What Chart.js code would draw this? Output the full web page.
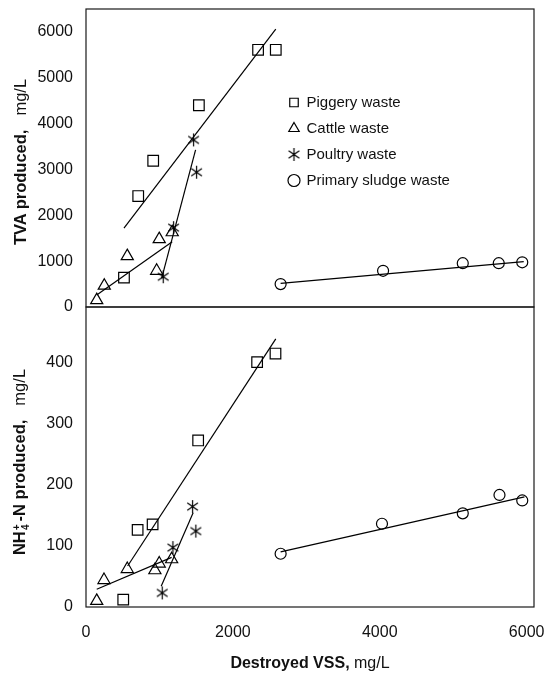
<!DOCTYPE html>
<html>
<head>
<meta charset="utf-8">
<script src="https://cdn.jsdelivr.net/npm/chart.js@4.4.1/dist/chart.umd.min.js"></script>
<style>
  html, body { margin: 0; padding: 0; background: #fff; }
  #wrap { position: relative; width: 545px; height: 674px; background: #fff;
          font-family: "Liberation Sans", Arial, sans-serif; color: #111; }
  #wrap canvas { position: absolute; left: 0; top: 0; }
  .ytitle { position: absolute; white-space: nowrap; font-size: 16.5px; line-height: 1;
            transform: translate(-50%, -50%) rotate(-90deg); }
  .xtitle { position: absolute; white-space: nowrap; font-size: 16px; line-height: 1;
            transform: translate(-50%, -50%); }
  .unit { margin-left: 14px; font-weight: normal; }
  .ion { display: inline-block; vertical-align: middle; font-size: 10px; line-height: 9px;
         text-align: center; margin: 0 3px 0 1px; }
  .ion span { display: block; }
</style>
</head>
<body>
<div id="wrap">
  <canvas id="tvaChart" width="545" height="674"></canvas>
  <canvas id="nh4Chart" width="545" height="674"></canvas>
  <div class="ytitle" style="left:20px; top:162px"><b>TVA produced,</b><span class="unit">mg/L</span></div>
  <div class="ytitle" style="left:20px; top:462px"><b>NH<span class="ion"><span>+</span><span>4</span></span>-N produced,</b><span class="unit">mg/L</span></div>
  <div class="xtitle" style="left:310px; top:663px"><b>Destroyed VSS,</b> mg/L</div>
</div>
<script>
// --- Data (destroyed VSS in mg/L on x) ---
const seriesNames = ['Piggery waste', 'Cattle waste', 'Poultry waste', 'Primary sludge waste'];

// tick labels
const vssTicks = [0, 2000, 4000, 6000];
const tvaTicks = [0, 1000, 2000, 3000, 4000, 5000, 6000];
const nh4Ticks = [0, 100, 200, 300, 400];

// TVA panel
const vssPiggeryTva = [517, 711, 915, 1537, 2343, 2584];
const tvaPiggery = [640, 2420, 3190, 4400, 5610, 5610];
const vssCattleTva = [146, 249, 562, 962, 997, 1174];
const tvaCattle = [150, 465, 1110, 790, 1480, 1630];
const vssPoultryTva = [1051, 1193, 1465, 1506];
const tvaPoultry = [660, 1730, 3645, 2940];
const vssSludgeTva = [2650, 4045, 5130, 5620, 5940];
const tvaSludge = [500, 790, 955, 955, 975];

// TVA fitted lines (end points)
const fitPiggeryTva = { x: [517, 2584], y: [1720, 6060] };
const fitCattleTva = { x: [146, 1174], y: [262, 1425] };
const fitPoultryTva = { x: [1030, 1492], y: [626, 3426] };
const fitSludgeTva = { x: [2650, 5960], y: [515, 990] };

// NH4+-N panel
const vssPiggeryN = [507, 703, 907, 1527, 2330, 2580];
const nPiggery = [12, 126, 135, 272, 400, 414];
const vssCattleN = [146, 245, 562, 938, 997, 1166];
const nCattle = [10, 44, 62, 60, 71, 78];
const vssPoultryN = [1038, 1183, 1451, 1496];
const nPoultry = [23, 97, 164, 124];
const vssSludgeN = [2650, 4030, 5130, 5630, 5940];
const nSludge = [87, 136, 153, 183, 174];

// NH4+-N fitted lines (end points)
const fitPiggeryN = { x: [567, 2584], y: [67, 438] };
const fitCattleN = { x: [146, 1166], y: [29, 81] };
const fitPoultryN = { x: [1024, 1459], y: [34, 154] };
const fitSludgeN = { x: [2650, 5970], y: [90, 180] };

// --- Styling ---
const FONT = '"Liberation Sans", Arial, sans-serif';
Chart.defaults.font.family = FONT;
Chart.defaults.color = '#111';

// six-armed asterisk like the printed poultry marker
function asteriskMarker(r) {
    const c = document.createElement('canvas');
    c.width = c.height = 2 * r + 2;
    const g = c.getContext('2d');
    const m = r + 1;
    g.strokeStyle = '#000';
    g.lineWidth = 1.2;
    g.beginPath();
    [90, 35, 145].forEach(deg => {
        const a = deg * Math.PI / 180;
        g.moveTo(m - r * Math.cos(a), m - r * Math.sin(a));
        g.lineTo(m + r * Math.cos(a), m + r * Math.sin(a));
    });
    g.stroke();
    return c;
}

const markers = [
    { style: 'rect', radius: 7.5 },
    { style: 'triangle', radius: 7 },
    { style: asteriskMarker(6.5), radius: 6.5 },
    { style: 'circle', radius: 5.5 }
];

const pts = (xs, ys) => xs.map((x, i) => ({ x, y: ys[i] }));

function markerSet(i, xs, ys) {
    return {
        label: seriesNames[i],
        data: pts(xs, ys),
        showLine: false,
        pointStyle: markers[i].style,
        pointRadius: markers[i].radius,
        pointBorderWidth: 1.2,
        borderWidth: 1.2,
        borderColor: '#000',
        backgroundColor: 'rgba(0,0,0,0)'
    };
}

function fitSet(fit) {
    return {
        label: '',
        data: pts(fit.x, fit.y),
        showLine: true,
        pointRadius: 0,
        borderWidth: 1.2,
        borderColor: '#000'
    };
}

// box round each panel
const framePlugin = {
    id: 'frame',
    beforeDatasetsDraw(chart) {
        const { ctx, chartArea: a } = chart;
        ctx.save();
        ctx.strokeStyle = '#1a1a1a';
        ctx.lineWidth = 1.2;
        ctx.strokeRect(a.left, a.top, a.right - a.left, a.bottom - a.top);
        ctx.restore();
    }
};

// put the legend inside the upper panel
const legendSpot = {
    id: 'legendSpot',
    afterLayout(chart) {
        const lg = chart.legend;
        if (!lg) return;
        lg.left = 278;
        lg.top = 84;
        lg.right = lg.left + 250;
        lg.bottom = lg.top + 130;
    }
};

const fixedTicks = values => scale => {
    scale.ticks = values.map(v => ({ value: v }));
};

function yScale(max, values) {
    return {
        min: 0,
        max: max,
        afterBuildTicks: fixedTicks(values),
        ticks: { padding: 13, color: '#111', font: { size: 16 }, callback: v => String(v) },
        grid: { display: false, drawTicks: false },
        border: { display: false },
        afterFit(s) {
            s.width = 86;
            s.paddingTop = 0;
            s.paddingBottom = 0;
        }
    };
}

// --- Upper panel: TVA ---
new Chart(document.getElementById('tvaChart'), {
    type: 'scatter',
    data: {
        datasets: [
            markerSet(0, vssPiggeryTva, tvaPiggery),
            markerSet(1, vssCattleTva, tvaCattle),
            markerSet(2, vssPoultryTva, tvaPoultry),
            markerSet(3, vssSludgeTva, tvaSludge),
            fitSet(fitPiggeryTva),
            fitSet(fitCattleTva),
            fitSet(fitPoultryTva),
            fitSet(fitSludgeTva)
        ]
    },
    options: {
        responsive: false,
        animation: false,
        layout: { padding: { top: 9, right: 11, bottom: 367, left: 0 } },
        scales: {
            x: { type: 'linear', min: 0, max: 6100, display: false },
            y: yScale(6500, tvaTicks)
        },
        plugins: {
            legend: {
                position: 'chartArea',
                align: 'start',
                labels: {
                    usePointStyle: true,
                    boxWidth: 10,
                    boxHeight: 8.5,
                    padding: 11,
                    color: '#111',
                    font: { size: 15 },
                    filter: item => item.text !== ''
                }
            },
            tooltip: { enabled: false }
        }
    },
    plugins: [framePlugin, legendSpot]
});

// --- Lower panel: NH4+-N ---
new Chart(document.getElementById('nh4Chart'), {
    type: 'scatter',
    data: {
        datasets: [
            markerSet(0, vssPiggeryN, nPiggery),
            markerSet(1, vssCattleN, nCattle),
            markerSet(2, vssPoultryN, nPoultry),
            markerSet(3, vssSludgeN, nSludge),
            fitSet(fitPiggeryN),
            fitSet(fitCattleN),
            fitSet(fitPoultryN),
            fitSet(fitSludgeN)
        ]
    },
    options: {
        responsive: false,
        animation: false,
        layout: { padding: { top: 307, right: 11, bottom: 0, left: 0 } },
        scales: {
            x: {
                type: 'linear',
                min: 0,
                max: 6100,
                afterBuildTicks: fixedTicks(vssTicks),
                ticks: { padding: 16, color: '#111', font: { size: 16 }, callback: v => String(v) },
                grid: { display: false, drawTicks: false },
                border: { display: false },
                afterFit(s) {
                    s.height = 67;
                    s.paddingLeft = 0;
                    s.paddingRight = 0;
                }
            },
            y: yScale(490, nh4Ticks)
        },
        plugins: {
            legend: { display: false },
            tooltip: { enabled: false }
        }
    },
    plugins: [framePlugin]
});
</script>
</body>
</html>
